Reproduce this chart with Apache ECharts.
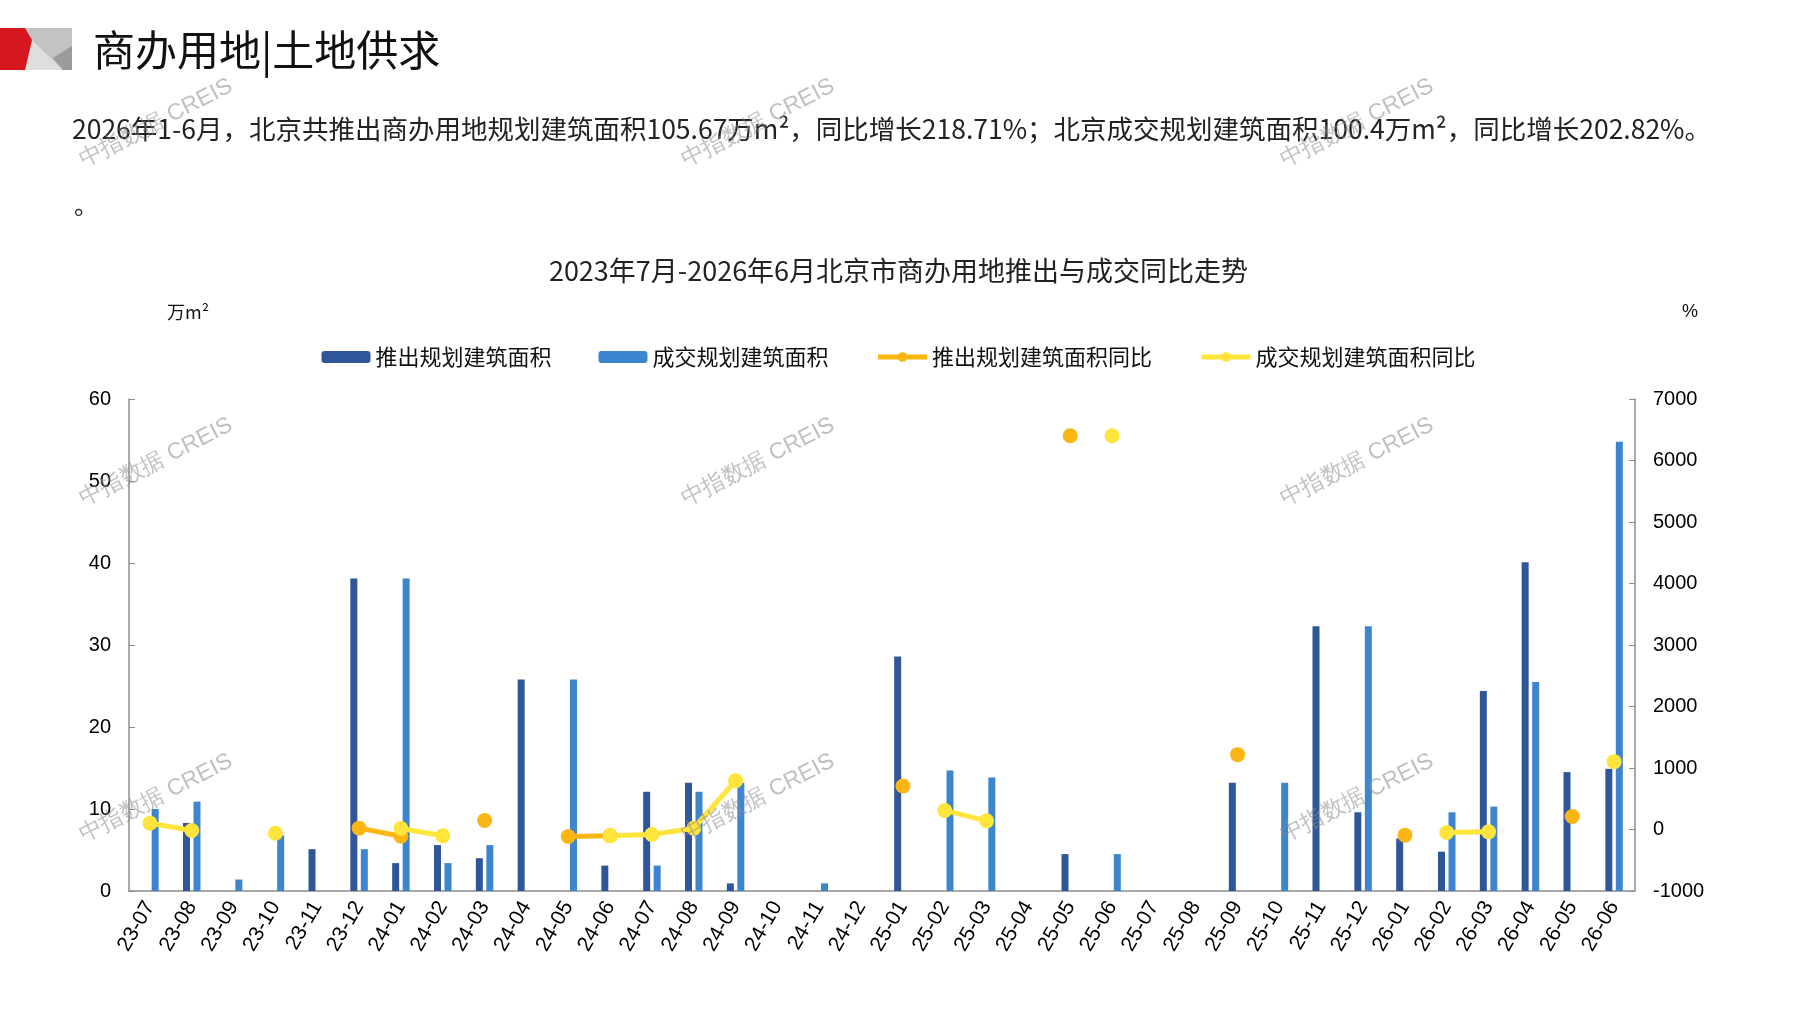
<!DOCTYPE html>
<html>
<head>
<meta charset="utf-8">
<script src="https://cdn.jsdelivr.net/npm/echarts@6/dist/echarts.min.js"></script>
<style>
html,body{margin:0;padding:0;background:#fff;}
#main{width:1797px;height:1010px;}
</style>
</head>
<body>
<div id="main"></div>
<script>
var categories = ['23-07','23-08','23-09','23-10','23-11','23-12','24-01','24-02','24-03','24-04','24-05','24-06','24-07','24-08','24-09','24-10','24-11','24-12','25-01','25-02','25-03','25-04','25-05','25-06','25-07','25-08','25-09','25-10','25-11','25-12','26-01','26-02','26-03','26-04','26-05','26-06'];
var supplyArea = [null,8.3,null,null,5.1,38.1,3.4,5.6,4.0,25.8,null,3.1,12.1,13.2,0.93,null,null,null,28.6,null,null,null,4.5,null,null,null,13.2,null,32.3,9.6,6.4,4.8,24.4,40.1,14.5,14.9];
var dealArea = [10.0,10.9,1.4,6.8,null,5.1,38.1,3.4,5.6,null,25.8,null,3.1,12.1,13.2,null,0.93,null,null,14.7,13.85,null,null,4.5,null,null,null,13.2,null,32.3,null,9.6,10.3,25.5,null,54.8];
var supplyYoY = [null,null,null,null,null,22,-109,null,147,null,-114,-100,null,null,null,null,null,null,707,null,null,null,6402,null,null,null,1217,null,null,null,-92,null,null,null,212,null];
var dealYoY = [103,-16,null,-60,null,null,16,-103,null,null,null,-103,-82,20,793,null,null,null,null,310,141,null,null,6402,null,null,null,null,null,null,null,-49,-38,null,null,1103];
var leftTicks = {min:0, max:60, interval:10};
var rightTicks = {min:-1000, max:7000, interval:1000};
var seriesNames = ['推出规划建筑面积','成交规划建筑面积','推出规划建筑面积同比','成交规划建筑面积同比'];
var pageTitle = '商办用地|土地供求';
var summary = '2026年1-6月，北京共推出商办用地规划建筑面积105.67万m²，同比增长218.71%；北京成交规划建筑面积100.4万m²，同比增长202.82%。';
var chartTitle = '2023年7月-2026年6月北京市商办用地推出与成交同比走势';
var watermark = '中指数据 CREIS';

var cjk = "'Noto Sans CJK SC', sans-serif";
var narrow = "'Liberation Sans Narrow','Noto Sans CJK SC', sans-serif";
var arial = "'Liberation Sans', Arial, sans-serif";
var axisGray = '#8c8c8c';

var graphics = [
  {type:'polygon', shape:{points:[[25,28],[72,28],[72,70],[25,70]]}, style:{fill:'#c3c3c3'}},
  {type:'polygon', shape:{points:[[32,40],[63,70],[25,70]]}, style:{fill:'#dedede'}},
  {type:'polygon', shape:{points:[[72,46],[53,58],[63,70],[72,70]]}, style:{fill:'#9b9b9b'}},
  {type:'polygon', shape:{points:[[0,28],[25,28],[32,40],[25,70],[0,70]]}, style:{fill:'#d7171f'}},
  {type:'text', x:93, y:50, style:{text:pageTitle, font:'42px ' + cjk, fill:'#111', textVerticalAlign:'middle'}},
  {type:'text', x:72, y:129, style:{text:summary, font:'26.5px ' + narrow, fill:'#222', textVerticalAlign:'middle'}},
  {type:'text', x:74, y:205, style:{text:'。', font:'24px ' + cjk, fill:'#222', textVerticalAlign:'middle'}},
  {type:'text', x:167, y:312, style:{text:'万m²', font:'18px ' + narrow, fill:'#111', textVerticalAlign:'middle'}},
  {type:'text', x:1682, y:312, style:{text:'%', font:'18px ' + arial, fill:'#111', textVerticalAlign:'middle'}}
];
var wmX = [156, 758, 1357], wmY = [123, 462, 798];
wmX.forEach(function(x){ wmY.forEach(function(y){
  graphics.push({type:'text', x:x, y:y, rotation:27*Math.PI/180, z:100,
    style:{text:watermark, font:'23px ' + arial, fill:'rgba(140,140,140,0.55)', textAlign:'center', textVerticalAlign:'middle'}});
});});

var plain = function(v){ return String(v); };

var chart = echarts.init(document.getElementById('main'));
chart.setOption({
  backgroundColor:'#fff',
  animation:false,
  title:{text:chartTitle, left:'center', top:252, textStyle:{fontFamily:cjk, fontSize:27, fontWeight:'normal', color:'#222'}},
  legend:{top:341, left:'center', itemGap:47, itemWidth:49, itemHeight:12,
    lineStyle:{width:5}, textStyle:{fontFamily:cjk, fontSize:22, color:'#111'}, data:seriesNames},
  grid:{left:129, right:162, top:399, bottom:119, containLabel:false},
  xAxis:{type:'category', data:categories, boundaryGap:true,
    axisLine:{lineStyle:{color:axisGray, width:1.5}},
    axisTick:{inside:true, length:6, lineStyle:{color:axisGray}},
    axisLabel:{interval:0, rotate:60, fontFamily:arial, fontSize:21, color:'#000', margin:12}},
  yAxis:[
    {type:'value', min:leftTicks.min, max:leftTicks.max, interval:leftTicks.interval, splitLine:{show:false},
      axisLine:{show:true, lineStyle:{color:axisGray, width:1.5}},
      axisTick:{show:true, inside:true, length:6, lineStyle:{color:axisGray}},
      axisLabel:{fontFamily:arial, fontSize:20, color:'#000', margin:18, formatter:plain}},
    {type:'value', min:rightTicks.min, max:rightTicks.max, interval:rightTicks.interval, splitLine:{show:false},
      axisLine:{show:true, lineStyle:{color:axisGray, width:1.5}},
      axisTick:{show:true, inside:true, length:6, lineStyle:{color:axisGray}},
      axisLabel:{fontFamily:arial, fontSize:20, color:'#000', margin:18, formatter:plain}}
  ],
  series:[
    {name:seriesNames[0], type:'bar', data:supplyArea, barWidth:7, barGap:'50%', itemStyle:{color:'#2f5699'}},
    {name:seriesNames[1], type:'bar', data:dealArea, barWidth:7, barGap:'50%', itemStyle:{color:'#3d86cf'}},
    {name:seriesNames[2], type:'line', yAxisIndex:1, data:supplyYoY, connectNulls:false, showSymbol:true, showAllSymbol:true,
      symbol:'circle', symbolSize:15, lineStyle:{width:5, color:'#fbb613'}, itemStyle:{color:'#fbb613'}, z:3},
    {name:seriesNames[3], type:'line', yAxisIndex:1, data:dealYoY, connectNulls:false, showSymbol:true, showAllSymbol:true,
      symbol:'circle', symbolSize:15, lineStyle:{width:5, color:'#ffe53b'}, itemStyle:{color:'#ffe53b'}, z:4}
  ],
  graphic:graphics
});
</script>
</body>
</html>
